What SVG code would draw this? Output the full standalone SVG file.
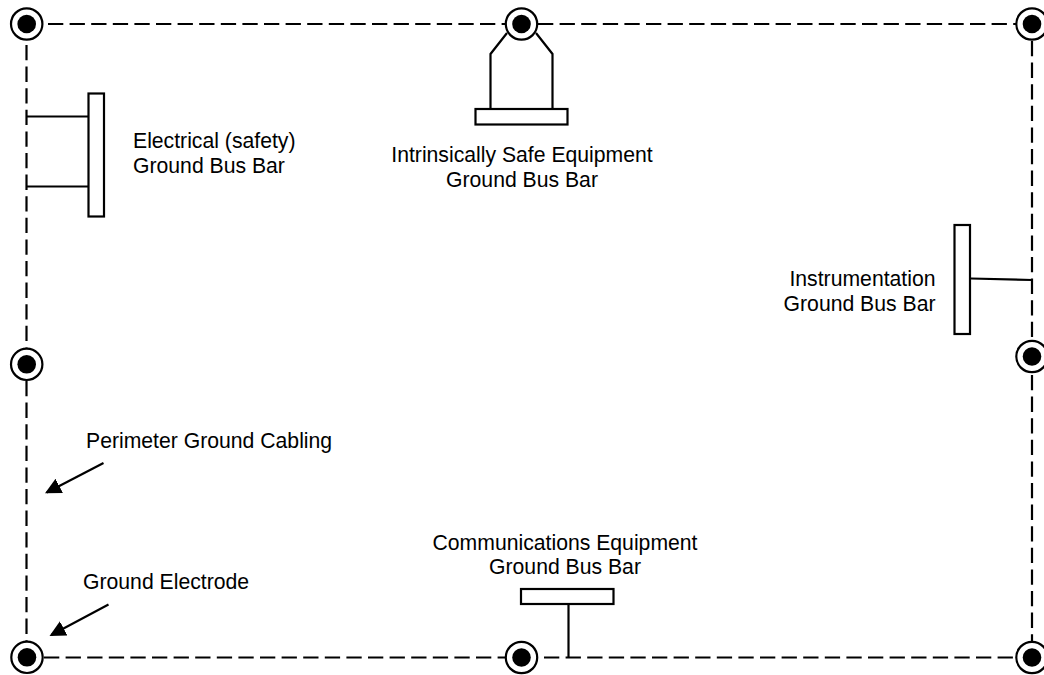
<svg xmlns="http://www.w3.org/2000/svg" width="1044" height="675" viewBox="0 0 1044 675">
<style>
.d{fill:none;stroke:#000;stroke-width:2.200;stroke-dasharray:15.300 6.300}
.s{fill:none;stroke:#000;stroke-width:2.200}
.b{fill:#fff;stroke:#000;stroke-width:2.200}
.o{fill:#fff;stroke:#000;stroke-width:2.200}
.i{fill:#000}
text{font-family:"Liberation Sans",Arial,sans-serif;font-size:21.2px;fill:#000}
.m{text-anchor:middle}
.e{text-anchor:end}
</style>
<defs>
<g id="el"><circle class="o" r="15.7"/><circle class="i" r="9.3"/></g>
<marker id="a" markerUnits="userSpaceOnUse" markerWidth="20" markerHeight="20" refX="14" refY="9" orient="auto"><path d="M0 1L16 9L0 17Z" fill="#000"/></marker>
</defs>
<rect width="1044" height="675" fill="#fff"/>
<g id="connectors">
<path class="d" d="M48 24H510"/>
<path class="d" d="M538 24H1016"/>
<path class="d" d="M26.500 45V349"/>
<path class="d" d="M26.500 381V642"/>
<path class="d" d="M44 657.500H506"/>
<path class="d" d="M544 657.500H1016"/>
<path class="d" d="M1032 41V341"/>
<path class="d" d="M1032 375V642"/>
<path class="s" d="M26 116.500H89M26 186.500H89"/>
<path class="s" d="M971 278.500L1032 280"/>
<path class="s" d="M568.500 604V657.500"/>
<path class="s" d="M507 33L490.500 54V109M536 33L552.500 54V109"/>
<path class="s" d="M103.500 463L46.800 492.400" marker-end="url(#a)"/>
<path class="s" d="M108.500 604.500L51.300 635" marker-end="url(#a)"/>
</g>
<g id="electrode-top-left"><use href="#el" x="26.700" y="24"/></g>
<g id="electrode-top-center"><use href="#el" x="521.500" y="24"/></g>
<g id="electrode-top-right"><use href="#el" x="1032" y="24"/></g>
<g id="electrode-left-mid"><use href="#el" x="26.700" y="364.300"/></g>
<g id="electrode-right-mid"><use href="#el" x="1032" y="356.500"/></g>
<g id="electrode-bottom-left"><use href="#el" x="27" y="657.300"/></g>
<g id="electrode-bottom-center"><use href="#el" x="521.500" y="657.500"/></g>
<g id="electrode-bottom-right"><use href="#el" x="1032" y="657.500"/></g>
<g id="bar-electrical"><rect class="b" x="88.500" y="93.500" width="15.500" height="123"/>
<text x="133" y="148">Electrical (safety)</text><text x="133" y="172.500">Ground Bus Bar</text></g>
<g id="bar-intrinsic"><rect class="b" x="475.500" y="109" width="92" height="15.500"/>
<text class="m" x="522" y="162">Intrinsically Safe Equipment</text><text class="m" x="522" y="187">Ground Bus Bar</text></g>
<g id="bar-instrumentation"><rect class="b" x="954.500" y="225" width="15.500" height="109"/>
<text class="e" x="935.500" y="286">Instrumentation</text><text class="e" x="935.500" y="310.500">Ground Bus Bar</text></g>
<g id="bar-communications"><rect class="b" x="521" y="589" width="92.500" height="15"/>
<text class="m" x="565" y="550">Communications Equipment</text><text class="m" x="565" y="574">Ground Bus Bar</text></g>
<g id="label-perimeter"><text x="86" y="448">Perimeter Ground Cabling</text></g>
<g id="label-electrode"><text x="83" y="589">Ground Electrode</text></g>
</svg>
